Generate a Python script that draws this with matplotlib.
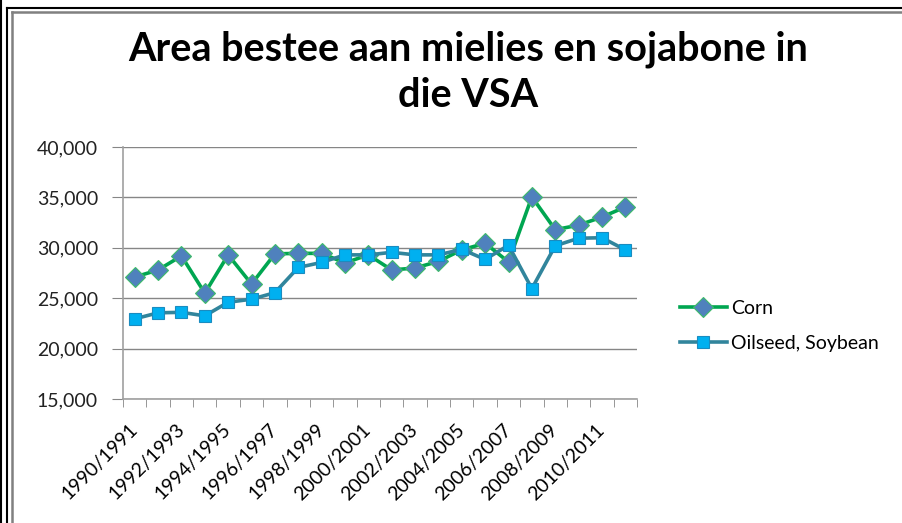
import numpy as np
import matplotlib.pyplot as plt
from matplotlib.lines import Line2D
from matplotlib.ticker import FuncFormatter

seasons = ['1990/1991', '1991/1992', '1992/1993', '1993/1994', '1994/1995', '1995/1996',
           '1996/1997', '1997/1998', '1998/1999', '1999/2000', '2000/2001', '2001/2002',
           '2002/2003', '2003/2004', '2004/2005', '2005/2006', '2006/2007', '2007/2008',
           '2008/2009', '2009/2010', '2010/2011', '2011/2012']
corn = [27100, 27800, 29200, 25500, 29300, 26400, 29400, 29450, 29450, 28500, 29300,
        27800, 28000, 28650, 29800, 30450, 28600, 35050, 31800, 32250, 33050, 34050]
soybean = [22950, 23550, 23600, 23250, 24600, 24900, 25550, 28050, 28550, 29300, 29300,
           29550, 29300, 29300, 29850, 28850, 30250, 25950, 30200, 30950, 31000, 29800]

plt.rcParams['font.family'] = ['Lato', 'DejaVu Sans']

fig = plt.figure(figsize=(9.02, 5.23), dpi=100, facecolor='w')
ax = fig.add_axes([0.1364, 0.2371, 0.5698, 0.4818])

x = np.arange(len(seasons))
ax.plot(x, corn, color='#00A651', linewidth=2.6, marker='D', markersize=10,
        mfc='#4F81BD', mec='#3DBB6A', mew=0.8, label='Corn', zorder=3)
ax.plot(x, soybean, color='#31859C', linewidth=2.6, marker='s', markersize=9,
        mfc='#00B0F0', mec='#1A8CC0', mew=0.8, label='Oilseed, Soybean', zorder=3)

ax.set_xlim(-0.5, len(seasons) - 0.5)
ax.set_ylim(15000, 40000)
ax.set_yticks(np.arange(15000, 40001, 5000))
ax.yaxis.set_major_formatter(FuncFormatter(lambda v, p: f'{int(v):,}'))
ax.grid(axis='y', color='#868686', linewidth=1)
ax.set_axisbelow(True)

# labels on every second season, tick marks between categories
ax.set_xticks(x[::2])
ax.set_xticklabels(seasons[::2], rotation=45, ha='right', va='center',
                   rotation_mode='anchor', fontsize=14)
ax.set_xticks(np.arange(-0.5, len(seasons)), minor=True)
ax.tick_params(axis='x', which='major', length=0, pad=20)
ax.tick_params(axis='x', which='minor', length=6, color='#868686', direction='out')
ax.tick_params(axis='y', length=8, color='#868686', labelsize=14, pad=10, labelcolor='#222222')

for side in ['top', 'right']:
    ax.spines[side].set_visible(False)
for side in ['left', 'bottom']:
    ax.spines[side].set_color('#A0A0A0')
    ax.spines[side].set_linewidth(1.2)

fig.text(0.519, 0.861, 'Area bestee aan mielies en sojabone in\ndie VSA',
         ha='center', va='center', fontsize=28.5, fontweight='bold',
         linespacing=1.3, color='black')

fig.legend(loc='center left', bbox_to_anchor=(0.754, 0.3767), frameon=False,
           fontsize=14, handlelength=2.4, labelspacing=0.95, handletextpad=0.2,
           borderpad=0, borderaxespad=0)

# page / chart frame lines
W, H = 902, 523
def fline(x0, y0, x1, y1, c, lw):
    fig.add_artist(Line2D([x0 / W, x1 / W], [1 - y0 / H, 1 - y1 / H], color=c, linewidth=lw))

fline(0.8, 0, 0.8, H, 'black', 1.5)
fline(7.5, 8, 7.5, H, 'black', 1.5)
fline(7.5, 8, W, 8, 'black', 1.5)
fline(11.5, 11.5, 11.5, H, '#808080', 1.8)
fline(11.5, 11.5, W, 11.5, '#808080', 1.8)

plt.savefig('out.png', dpi=100)
